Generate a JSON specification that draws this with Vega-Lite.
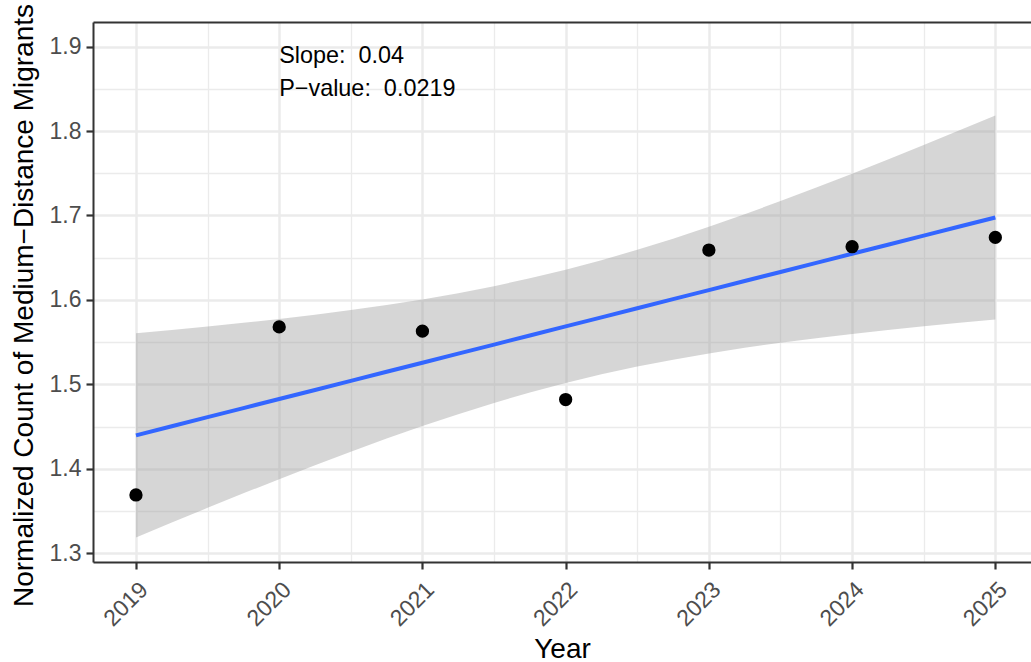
{
  "$schema": "https://vega.github.io/schema/vega-lite/v6.json",
  "width": 938,
  "height": 540,
  "autosize": {"type": "none"},
  "padding": {"left": 93, "top": 22, "right": 0, "bottom": 100},
  "background": "white",
  "config": {"view": {"stroke": null}, "font": "Liberation Sans"},
  "datasets": {
    "smooth": [
      {"year": 2019.0, "fit": 1.4396, "lower": 1.3187, "upper": 1.5605},
      {"year": 2019.25, "fit": 1.45035, "lower": 1.3363, "upper": 1.5644},
      {"year": 2019.5, "fit": 1.4611, "lower": 1.3537, "upper": 1.5685},
      {"year": 2019.75, "fit": 1.47185, "lower": 1.3709, "upper": 1.5728},
      {"year": 2020.0, "fit": 1.4826, "lower": 1.3877, "upper": 1.5775},
      {"year": 2020.25, "fit": 1.49335, "lower": 1.4042, "upper": 1.5825},
      {"year": 2020.5, "fit": 1.5041, "lower": 1.4203, "upper": 1.588},
      {"year": 2020.75, "fit": 1.51485, "lower": 1.4358, "upper": 1.594},
      {"year": 2021.0, "fit": 1.5256, "lower": 1.4506, "upper": 1.6006},
      {"year": 2021.25, "fit": 1.53635, "lower": 1.4647, "upper": 1.608},
      {"year": 2021.5, "fit": 1.5471, "lower": 1.478, "upper": 1.6163},
      {"year": 2021.75, "fit": 1.55785, "lower": 1.4903, "upper": 1.6255},
      {"year": 2022.0, "fit": 1.5686, "lower": 1.5015, "upper": 1.6357},
      {"year": 2022.25, "fit": 1.57935, "lower": 1.5118, "upper": 1.647},
      {"year": 2022.5, "fit": 1.5901, "lower": 1.521, "upper": 1.6593},
      {"year": 2022.75, "fit": 1.60085, "lower": 1.5292, "upper": 1.6725},
      {"year": 2023.0, "fit": 1.6116, "lower": 1.5366, "upper": 1.6866},
      {"year": 2023.25, "fit": 1.62235, "lower": 1.5433, "upper": 1.7015},
      {"year": 2023.5, "fit": 1.6331, "lower": 1.5493, "upper": 1.717},
      {"year": 2023.75, "fit": 1.64385, "lower": 1.5547, "upper": 1.733},
      {"year": 2024.0, "fit": 1.6546, "lower": 1.5597, "upper": 1.7495},
      {"year": 2024.25, "fit": 1.66535, "lower": 1.5644, "upper": 1.7663},
      {"year": 2024.5, "fit": 1.6761, "lower": 1.5687, "upper": 1.7835},
      {"year": 2024.75, "fit": 1.68685, "lower": 1.5728, "upper": 1.8009},
      {"year": 2025.0, "fit": 1.6976, "lower": 1.5767, "upper": 1.8185}
    ],
    "points": [
      {"year": 2019, "value": 1.369},
      {"year": 2020, "value": 1.568},
      {"year": 2021, "value": 1.563},
      {"year": 2022, "value": 1.482},
      {"year": 2023, "value": 1.659},
      {"year": 2024, "value": 1.663},
      {"year": 2025, "value": 1.674}
    ],
    "annot": [
      {"x": 2020, "y": 1.9, "label": "Slope:\u00a0 0.04\nP−value:\u00a0 0.0219"}
    ]
  },
  "layer": [
    {
      "data": {"name": "smooth"},
      "mark": {"type": "line", "opacity": 0},
      "encoding": {
        "x": {
          "field": "year", "type": "quantitative",
          "scale": {"domain": [2018.7, 2025.249], "nice": false, "zero": false},
          "axis": {
            "orient": "bottom", "title": null,
            "values": [2019.5, 2020.5, 2021.5, 2022.5, 2023.5, 2024.5],
            "labels": false, "ticks": false, "domain": false,
            "grid": true, "gridColor": "#EBEBEB", "gridWidth": 1.3
          }
        },
        "y": {
          "field": "fit", "type": "quantitative",
          "scale": {"domain": [1.2896, 1.9291], "nice": false, "zero": false},
          "axis": {
            "orient": "left", "title": null,
            "values": [1.35, 1.45, 1.55, 1.65, 1.75, 1.85],
            "labels": false, "ticks": false, "domain": false,
            "grid": true, "gridColor": "#EBEBEB", "gridWidth": 1.3
          }
        }
      }
    },
    {
      "data": {"name": "smooth"},
      "mark": {"type": "area", "fill": "#999999", "opacity": 0.4},
      "encoding": {
        "x": {"field": "year", "type": "quantitative", "axis": null},
        "y": {"field": "lower", "type": "quantitative", "axis": null},
        "y2": {"field": "upper"}
      }
    },
    {
      "data": {"name": "smooth"},
      "mark": {"type": "line", "color": "#3366FF", "strokeWidth": 4},
      "encoding": {
        "x": {"field": "year", "type": "quantitative", "axis": null},
        "y": {"field": "fit", "type": "quantitative", "axis": null}
      }
    },
    {
      "data": {"name": "points"},
      "mark": {"type": "circle", "size": 177, "color": "#000000", "opacity": 1},
      "encoding": {
        "x": {
          "field": "year", "type": "quantitative",
          "axis": {
            "orient": "bottom", "title": "Year",
            "values": [2019, 2020, 2021, 2022, 2023, 2024, 2025],
            "format": "d",
            "labelAngle": -45, "labelAlign": "right", "labelBaseline": "top",
            "labelFontSize": 23, "labelColor": "#4D4D4D", "labelPadding": 9, "labelDx": 6,
            "labelOverlap": false, "labelFlush": false,
            "ticks": true, "tickSize": 7, "tickWidth": 2.2, "tickColor": "#333333",
            "grid": true, "gridColor": "#EBEBEB", "gridWidth": 2.5,
            "domain": true, "domainColor": "#333333", "domainWidth": 2,
            "titleFontSize": 28, "titleColor": "#000000", "titleFontWeight": "normal",
            "titleY": 95, "titleBaseline": "alphabetic"
          }
        },
        "y": {
          "field": "value", "type": "quantitative",
          "axis": {
            "orient": "left",
            "values": [1.3, 1.4, 1.5, 1.6, 1.7, 1.8, 1.9],
            "format": ".1f",
            "labelFontSize": 23, "labelColor": "#4D4D4D", "labelPadding": 5,
            "labelOverlap": false, "labelFlush": false,
            "ticks": true, "tickSize": 7, "tickWidth": 2.2, "tickColor": "#333333",
            "grid": true, "gridColor": "#EBEBEB", "gridWidth": 2.5,
            "domain": true, "domainColor": "#333333", "domainWidth": 2,
            "title": "Normalized Count of Medium−Distance Migrants",
            "titleFontSize": 28, "titleColor": "#000000", "titleFontWeight": "normal",
            "titleAngle": 270, "titleX": -61, "titleY": 283, "titleAlign": "center", "titleBaseline": "alphabetic"
          }
        }
      }
    },
    {
      "data": {"name": "annot"},
      "mark": {"type": "text", "align": "left", "baseline": "top", "fontSize": 23.4, "lineBreak": "\n", "lineHeight": 33, "color": "#000000", "dy": -2},
      "encoding": {
        "x": {
          "field": "x", "type": "quantitative",
          "axis": {"orient": "top", "title": null, "labels": false, "ticks": false, "grid": false, "domain": true, "domainColor": "#333333", "domainWidth": 2}
        },
        "y": {"field": "y", "type": "quantitative", "axis": null},
        "text": {"field": "label"}
      }
    }
  ],
  "resolve": {"axis": {"x": "independent", "y": "independent"}}
}
